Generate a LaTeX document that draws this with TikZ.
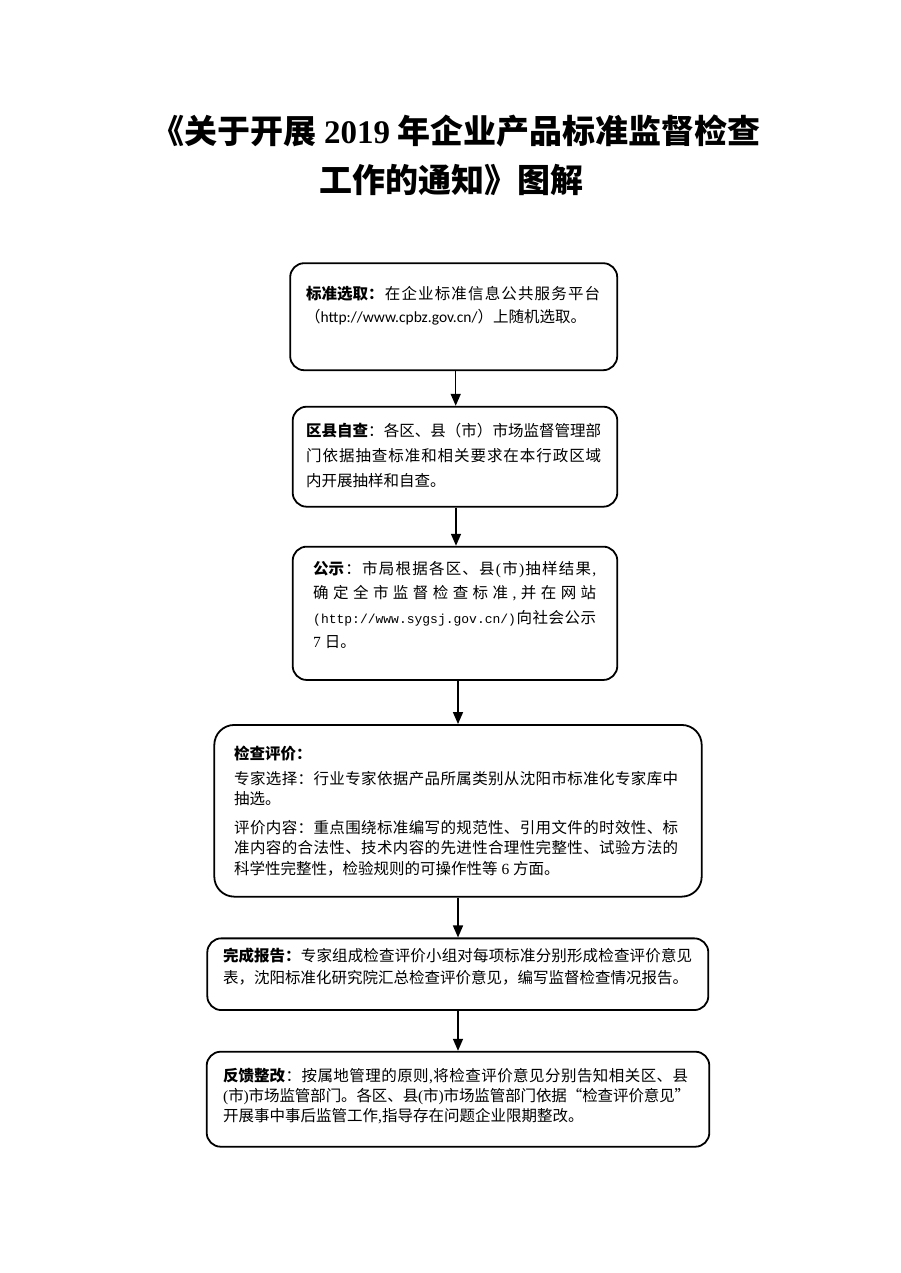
\documentclass[tikz,border=0pt]{standalone}
\usepackage{fontspec}
\setmainfont{Liberation Serif}
\newfontfamily\cjk{Noto Sans CJK SC}
\newfontfamily\carl{Carlito}
\newfontfamily\mono{Liberation Mono}
\newfontfamily\lser{Liberation Serif}
\usetikzlibrary{arrows.meta}
% spread (or tighten) a line's units evenly over a given width
\def\spreadend{SPREADENDMARK}
\def\spreadfirst#1{{#1}\spreadloop}
\def\spreadloop#1{\ifx\spreadend#1\else\hskip 0pt plus 1fil minus 1fil{#1}\expandafter\spreadloop\fi}
\newcommand\spl[2]{\makebox[#1][s]{\spreadfirst#2\spreadend}}
\begin{document}
\begin{tikzpicture}[x=1pt,y=-1pt,
  box/.style={draw, line width=1.8pt, rounded corners=14pt, inner sep=0pt},
  txt/.style={anchor=base west, inner sep=0pt, font=\cjk\fontsize{15.5}{18}\selectfont},
  ttl/.style={anchor=base, inner sep=0pt, font=\cjk\bfseries\fontsize{33}{40}\selectfont},
  arr/.style={line width=1.5pt, -{Triangle[width=10pt,length=12pt]}}]
\useasboundingbox[fill=white] (0,0) rectangle (900,1273);

% title
\node[ttl] (title1) at (456,144) {《关于开展 {\lser\bfseries 2019} 年企业产品标准监督检查};
\node[ttl] (title2) at (451,193) {工作的通知》图解};

% boxes
\node[box, minimum width=327pt, minimum height=107pt] (b1) at (453.7,316.7) {};
\node[box, minimum width=324.6pt, minimum height=100pt] (b2) at (455,456.7) {};
\node[box, minimum width=324.6pt, minimum height=133.3pt] (b3) at (455,613.3) {};
\node[box, rounded corners=20pt, minimum width=487.4pt, minimum height=171.7pt] (b4) at (458,810.8) {};
\node[box, minimum width=501pt, minimum height=71.7pt] (b5) at (457.8,974.2) {};
\node[box, minimum width=502.6pt, minimum height=95pt] (b6) at (458,1099.2) {};

% connectors
\draw[arr] ([xshift=2pt]b1.south) -- ([xshift=2pt]b1.south |- b2.north);
\draw[arr] ([xshift=1pt]b2.south) -- ([xshift=1pt]b2.south |- b3.north);
\draw[arr] ([xshift=3pt]b3.south) -- ([xshift=3pt]b3.south |- b4.north);
\draw[arr] (b4.south) -- (b4.south |- b5.north);
\draw[arr] ([xshift=0.2pt]b5.south) -- ([xshift=0.2pt]b5.south |- b6.north);

% box 1
\node[txt] (t1a) at (306,299) {\spl{294pt}{{\bfseries 标准选取：}在企业标准信息公共服务平台}};
\node[txt] (t1b) at (305,322) {（{\carl\fontsize{15.5}{18}\selectfont http://www.cpbz.gov.cn/}）上随机选取。};

% box 2
\node[txt] (t2a) at (306,436) {\spl{295pt}{{\bfseries 区县自查}：各区、县（市）市场监督管理部}};
\node[txt] (t2b) at (306,461) {\spl{295pt}{门依据抽查标准和相关要求在本行政区域}};
\node[txt] (t2c) at (306,486) {内开展抽样和自查。};

% box 3
\node[txt] (t3a) at (313,574) {\spl{283pt}{{\bfseries 公示}：市局根据各区、县{\lser(}市{\lser)}抽样结果{\lser,}}};
\node[txt] (t3b) at (313,598) {\spl{283pt}{确定全市监督检查标准{\lser,}并在网站}};
\node[txt] (t3c) at (313,623) {\spl{283pt}{{\mono\fontsize{13}{16}\selectfont(http://www.sygsj.gov.cn/)}向社会公示}};
\node[txt] (t3d) at (313,647) {{\lser 7 }日。};

% box 4
\node[txt] (t4a) at (234,759) {\bfseries 检查评价：};
\node[txt] (t4b) at (234,784) {\spl{444pt}{专家选择：行业专家依据产品所属类别从沈阳市标准化专家库中}};
\node[txt] (t4c) at (234,804) {抽选。};
\node[txt] (t4d) at (234,833) {\spl{444pt}{评价内容：重点围绕标准编写的规范性、引用文件的时效性、标}};
\node[txt] (t4e) at (234,853) {\spl{444pt}{准内容的合法性、技术内容的先进性合理性完整性、试验方法的}};
\node[txt] (t4f) at (234,874) {科学性完整性，检验规则的可操作性等{\lser\ 6\ }方面。};

% box 5
\node[txt] (t5a) at (223,961) {\spl{469pt}{{\bfseries 完成报告：}专家组成检查评价小组对每项标准分别形成检查评价意见}};
\node[txt] (t5b) at (223,983) {表，沈阳标准化研究院汇总检查评价意见，编写监督检查情况报告。};

% box 6
\node[txt] (t6a) at (223,1081) {\spl{465pt}{{\bfseries 反馈整改}：按属地管理的原则{\lser,}将检查评价意见分别告知相关区、县}};
\node[txt] (t6b) at (223,1101) {\spl{467pt}{{\lser(}市{\lser)}市场监管部门。各区、县{\lser(}市{\lser)}市场监管部门依据“检查评价意见”}};
\node[txt] (t6c) at (223,1121) {开展事中事后监管工作{\lser,}指导存在问题企业限期整改。};
\end{tikzpicture}
\end{document}
